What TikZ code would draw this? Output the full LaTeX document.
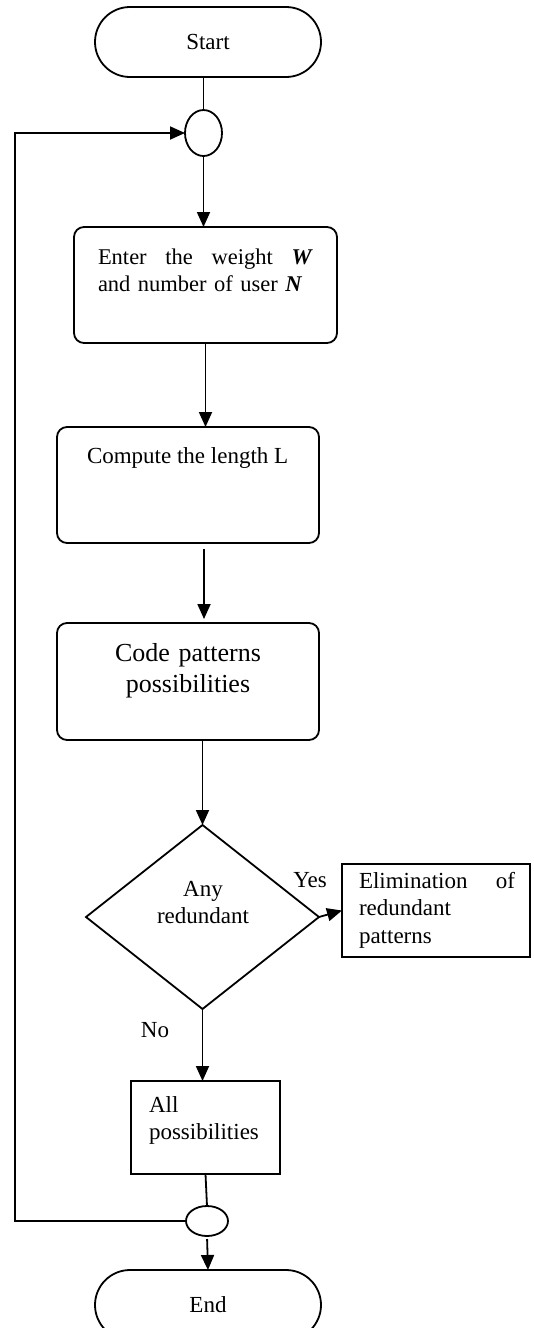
\documentclass[tikz,border=0pt]{standalone}
\usepackage{fontspec}
\setmainfont{Liberation Serif}
\usetikzlibrary{shapes.geometric,arrows.meta}
\begin{document}
\begin{tikzpicture}[x=1pt,y=-1pt,
  every node/.style={inner sep=0pt, outer sep=0pt},
  line/.style={line width=1.8pt},
  arr/.style={line width=1.8pt,-{Triangle[length=15pt,width=13pt]}},
  term/.style={draw, line width=1.8pt, rounded corners=35pt, minimum width=226pt, minimum height=70pt, font=\fontsize{23}{29}\selectfont},
  junc/.style={draw, ellipse, line width=1.8pt},
  procbox/.style={draw, line width=1.8pt, rounded corners=10pt},
  plainbox/.style={draw, line width=1.8pt},
  decbox/.style={draw, diamond, line width=1.8pt},
  txt/.style={font=\fontsize{23}{29}\selectfont, align=left},
]
\useasboundingbox (0,0) rectangle (534,1328);
\clip (0,0) rectangle (534,1328);

\node[term] (start) at (208,42) {Start};
\node[junc, minimum width=37pt, minimum height=46pt] (j1) at (203.5,133) {};
\node[procbox, minimum width=263pt, minimum height=116pt] (enter) at (205.5,285) {};
\node[txt, anchor=base west, text width=215pt, font=\fontsize{22.5}{27}\selectfont] (entert) at (98,264)
  {\hbox to 215pt{Enter\hfill the\hfill weight\hfill \textbf{\textit{W}}}\\and number of user \textbf{\textit{N}}};
\node[procbox, minimum width=262pt, minimum height=116pt] (comp) at (188,485) {};
\node[txt, anchor=base west] (compt) at (87,463) {Compute the length L};
\node[procbox, minimum width=262pt, minimum height=117pt] (code) at (188,681.5) {};
\node[txt, font=\fontsize{26}{31}\selectfont, align=center, text width=220pt, anchor=base] (codet) at (188,661) {Code patterns\\possibilities};
\node[decbox, minimum width=233pt, minimum height=184pt] (dec) at (202.5,917) {};
\node[txt, align=center, text width=150pt, anchor=base, font=\fontsize{23}{27}\selectfont] (dect) at (203,896) {Any\\redundant};
\node[txt, anchor=base] (yes) at (310,887) {Yes};
\node[plainbox, minimum width=188pt, minimum height=93pt] (elim) at (436,910.5) {};
\node[txt, anchor=base west, text width=156pt, font=\fontsize{23}{27.5}\selectfont] (elimt) at (359,888)
  {\hbox to 156pt{Elimination\hfill of}\\redundant\\patterns};
\node[txt, anchor=base] (no) at (155,1037) {No};
\node[plainbox, minimum width=149pt, minimum height=93pt] (all) at (205.5,1127.5) {};
\node[txt, anchor=base west, text width=125pt, font=\fontsize{23}{27.5}\selectfont] (allt) at (149,1112) {All\\possibilities};
\node[junc, minimum width=42pt, minimum height=30pt] (j2) at (207,1221) {};
\node[term] (end) at (208,1305) {End};
\coordinate (lt) at (15,133);

\draw[line] (j1.north) -- (j1.north |- start.south);
\draw[arr] (j1.south) -- (j1.south |- enter.north);
\draw[arr] (enter.south) -- (enter.south |- comp.north);
\draw[arr, shorten <=6pt, shorten >=4pt] ([xshift=16pt]comp.south) -- ([xshift=16pt]code.north);
\draw[arr] (dec.north |- code.south) -- (dec.north);
\draw[arr] (dec.east) -- (elim.west);
\draw[arr] (dec.south) -- (dec.south |- all.north);
\draw[line] (all.south) -- (j2.north);
\draw[arr, shorten <=3pt] (j2.south) -- (end.north);
\draw[arr] (j2.west) -| (lt) -- (j1.west);
\end{tikzpicture}
\end{document}
